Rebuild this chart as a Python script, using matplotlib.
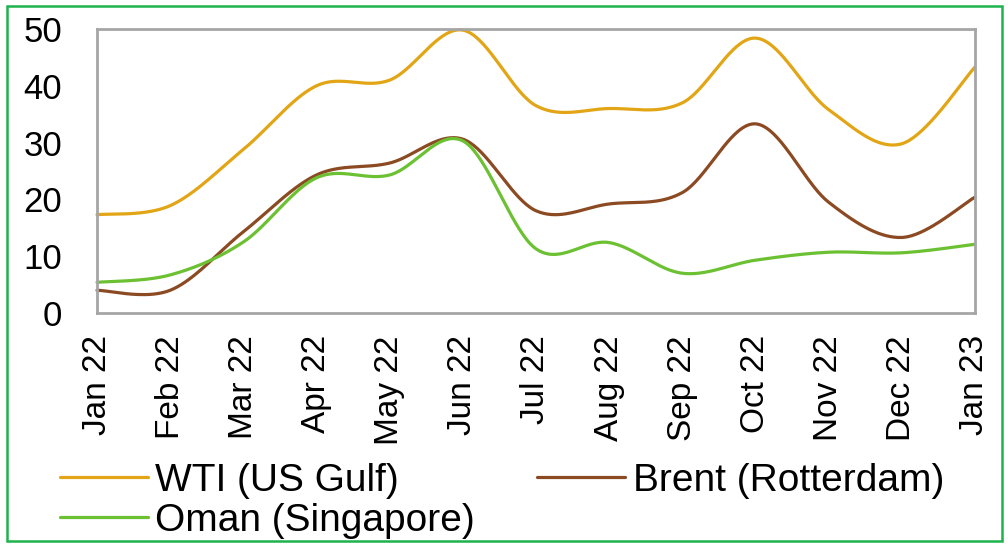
import numpy as np
import matplotlib
matplotlib.use('Agg')
import matplotlib.pyplot as plt
from matplotlib.patches import Rectangle

plt.rcParams['font.family'] = ['Liberation Sans', 'DejaVu Sans']

# months on the x axis
months = ['Jan 22', 'Feb 22', 'Mar 22', 'Apr 22', 'May 22', 'Jun 22', 'Jul 22',
          'Aug 22', 'Sep 22', 'Oct 22', 'Nov 22', 'Dec 22', 'Jan 23']

# margins
wti = [17.3, 18.9, 28.8, 40.0, 41.0, 49.8, 36.5, 36.0, 37.0, 48.4, 35.8, 29.8, 43.3]
brent = [4.0, 4.0, 14.3, 24.3, 26.4, 30.6, 18.0, 19.2, 21.2, 33.3, 19.5, 13.3, 20.4]
oman = [5.4, 6.7, 12.5, 23.8, 24.3, 30.3, 11.3, 12.4, 7.0, 9.3, 10.7, 10.6, 12.1]

names = ['WTI (US Gulf)', 'Oman (Singapore)', 'Brent (Rotterdam)']
colors = {'WTI (US Gulf)': '#e2a515', 'Brent (Rotterdam)': '#8b4a22',
          'Oman (Singapore)': '#6cc133'}


def smooth_line(x, y, n=40):
    # excel-style smoothed line: bezier with catmull-rom control points
    pts = np.column_stack([x, y]).astype(float)
    out = []
    t = np.linspace(0, 1, n)[:, None]
    for i in range(len(pts) - 1):
        p0 = pts[max(i - 1, 0)]
        p1 = pts[i]
        p2 = pts[i + 1]
        p3 = pts[min(i + 2, len(pts) - 1)]
        c1 = p1 + (p2 - p0) / 6
        c2 = p2 - (p3 - p1) / 6
        seg = ((1 - t) ** 3) * p1 + 3 * ((1 - t) ** 2) * t * c1 + 3 * (1 - t) * t ** 2 * c2 + t ** 3 * p2
        out.append(seg if i == 0 else seg[1:])
    out = np.vstack(out)
    return out[:, 0], out[:, 1]


fig = plt.figure(figsize=(10.08, 5.44), dpi=100)
ax = fig.add_axes([97 / 1008, 1 - 313 / 544, (975 - 97) / 1008, (313 - 29) / 544])

x = np.arange(len(months))
series = {'WTI (US Gulf)': wti, 'Brent (Rotterdam)': brent, 'Oman (Singapore)': oman}
lines = {}
for name in ['WTI (US Gulf)', 'Brent (Rotterdam)', 'Oman (Singapore)']:
    sx, sy = smooth_line(x, series[name])
    lines[name], = ax.plot(sx, sy, color=colors[name], lw=2.3, label=name,
                           solid_capstyle='round', clip_on=False)

ax.set_xlim(0, len(months) - 1)
ax.set_ylim(0, 50)
ax.set_yticks([0, 10, 20, 30, 40, 50])
ax.set_xticks(x)
ax.set_xticklabels(months, rotation=90, fontsize=24)
ax.tick_params(axis='y', labelsize=25, length=0, pad=25)
ax.tick_params(axis='x', length=0, pad=16)
for s in ax.spines.values():
    s.set_color('#a6a6a6')
    s.set_linewidth(2)

fig.legend([lines[n] for n in names], names, ncol=2, frameon=False,
           loc='upper left', bbox_to_anchor=(60 / 1008, 1 - 463 / 544),
           fontsize=28, handlelength=2.25, handletextpad=0.2,
           columnspacing=1.6, labelspacing=0.1, borderpad=0, borderaxespad=0)

# green frame around the whole figure
fig.patches.append(Rectangle((7 / 1008, 3 / 544), 995 / 1008, 535 / 544,
                             transform=fig.transFigure, fill=False,
                             edgecolor='#1db34c', lw=1.8))

fig.savefig('out.png', dpi=100)
